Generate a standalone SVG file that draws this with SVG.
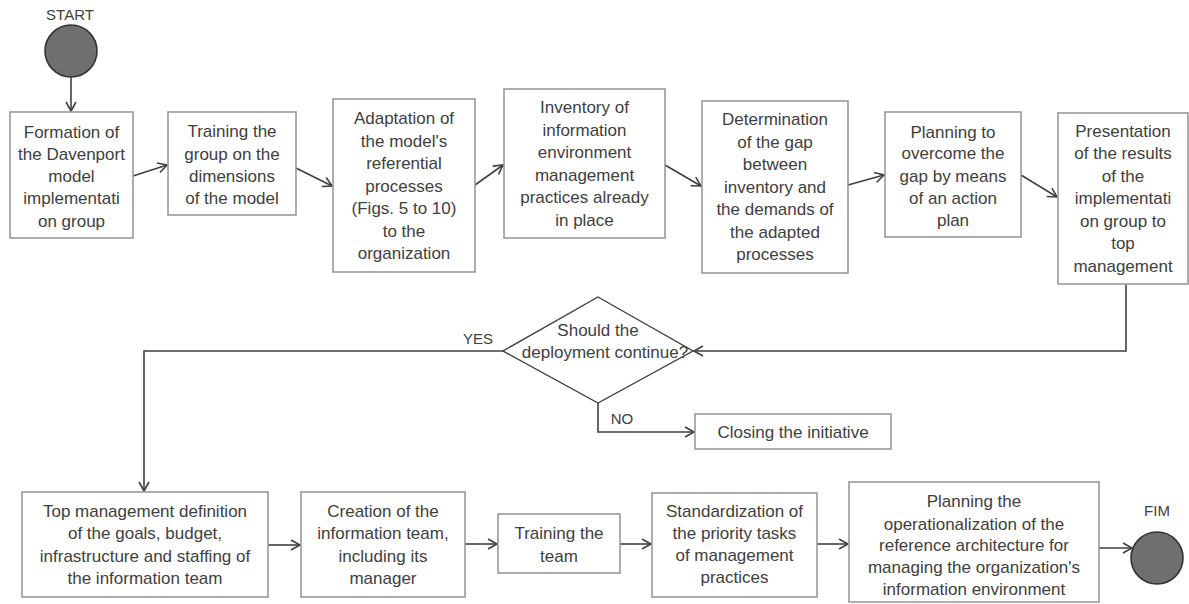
<svg xmlns="http://www.w3.org/2000/svg" width="1189" height="604" viewBox="0 0 1189 604">
<style>
  .box{fill:#fff;stroke:#9a9a9a;stroke-width:1.6}
  .t{font-family:"Liberation Sans",Arial,sans-serif;font-size:17px;fill:#404040;text-anchor:middle}
  .lbl{font-family:"Liberation Sans",Arial,sans-serif;font-size:15px;fill:#404040;text-anchor:middle}
  .c{fill:none;stroke:#404040;stroke-width:1.6}
  .term{fill:#6f6f6f;stroke:#333;stroke-width:1.6}
  .dia{fill:#fff;stroke:#404040;stroke-width:1.4}
</style>
<defs>
  <marker id="ar" markerUnits="userSpaceOnUse" markerWidth="12" markerHeight="12" refX="10" refY="6" orient="auto">
    <path d="M1,1 L10,6 L1,11" fill="none" stroke="#404040" stroke-width="1.6"/>
  </marker>
</defs>
<rect width="1189" height="604" fill="#fff"/>

<g id="connectors">
  <line class="c" x1="71" y1="77" x2="71" y2="111" marker-end="url(#ar)"/>
  <line class="c" x1="133" y1="176" x2="167" y2="165" marker-end="url(#ar)"/>
  <line class="c" x1="296" y1="168" x2="332" y2="186" marker-end="url(#ar)"/>
  <line class="c" x1="475" y1="185" x2="503" y2="165" marker-end="url(#ar)"/>
  <line class="c" x1="665" y1="165" x2="701" y2="186" marker-end="url(#ar)"/>
  <line class="c" x1="848" y1="185" x2="884" y2="175" marker-end="url(#ar)"/>
  <line class="c" x1="1021" y1="175" x2="1057" y2="197" marker-end="url(#ar)"/>
  <polyline class="c" points="1126,284 1126,351 694,351" marker-end="url(#ar)"/>
  <polyline class="c" points="503,351 144,351 144,491" marker-end="url(#ar)"/>
  <polyline class="c" points="598,403 598,432 694,432" marker-end="url(#ar)"/>
  <line class="c" x1="268" y1="545" x2="300" y2="545" marker-end="url(#ar)"/>
  <line class="c" x1="465" y1="544" x2="497" y2="544" marker-end="url(#ar)"/>
  <line class="c" x1="620" y1="544" x2="651" y2="544" marker-end="url(#ar)"/>
  <line class="c" x1="817" y1="544" x2="848" y2="544" marker-end="url(#ar)"/>
  <line class="c" x1="1099" y1="548" x2="1132" y2="548" marker-end="url(#ar)"/>
  <text class="lbl" x="478" y="344">YES</text>
  <text class="lbl" x="622" y="424">NO</text>
</g>

<g id="start">
  <text class="lbl" x="70" y="20">START</text>
  <circle class="term" cx="71" cy="51" r="26"/>
</g>

<g id="n1">
  <rect class="box" x="10" y="112" width="123" height="126"/>
  <text class="t" x="71.5"><tspan x="71.5" y="138">Formation of</tspan><tspan x="71.5" y="160">the Davenport</tspan><tspan x="71.5" y="182">model</tspan><tspan x="71.5" y="204">implementati</tspan><tspan x="71.5" y="227">on group</tspan></text>
</g>

<g id="n2">
  <rect class="box" x="168" y="112" width="128" height="103"/>
  <text class="t"><tspan x="232" y="137">Training the</tspan><tspan x="232" y="160">group on the</tspan><tspan x="232" y="182">dimensions</tspan><tspan x="232" y="204">of the model</tspan></text>
</g>

<g id="n3">
  <rect class="box" x="333" y="99" width="142" height="173"/>
  <text class="t"><tspan x="404" y="124">Adaptation of</tspan><tspan x="404" y="147">the model's</tspan><tspan x="404" y="169">referential</tspan><tspan x="404" y="192">processes</tspan><tspan x="404" y="214">(Figs. 5 to 10)</tspan><tspan x="404" y="237">to the</tspan><tspan x="404" y="259">organization</tspan></text>
</g>

<g id="n4">
  <rect class="box" x="504" y="89" width="161" height="149"/>
  <text class="t"><tspan x="584.5" y="113">Inventory of</tspan><tspan x="584.5" y="136">information</tspan><tspan x="584.5" y="158">environment</tspan><tspan x="584.5" y="181">management</tspan><tspan x="584.5" y="203">practices already</tspan><tspan x="584.5" y="226">in place</tspan></text>
</g>

<g id="n5">
  <rect class="box" x="702" y="101" width="146" height="172"/>
  <text class="t"><tspan x="775" y="125">Determination</tspan><tspan x="775" y="148">of the gap</tspan><tspan x="775" y="170">between</tspan><tspan x="775" y="193">inventory and</tspan><tspan x="775" y="215">the demands of</tspan><tspan x="775" y="238">the adapted</tspan><tspan x="775" y="260">processes</tspan></text>
</g>

<g id="n6">
  <rect class="box" x="885" y="112" width="136" height="125"/>
  <text class="t"><tspan x="953" y="138">Planning to</tspan><tspan x="953" y="159">overcome the</tspan><tspan x="953" y="182">gap by means</tspan><tspan x="953" y="204">of an action</tspan><tspan x="953" y="226">plan</tspan></text>
</g>

<g id="n7">
  <rect class="box" x="1058" y="113" width="130" height="171"/>
  <text class="t"><tspan x="1123" y="137">Presentation</tspan><tspan x="1123" y="159">of the results</tspan><tspan x="1123" y="182">of the</tspan><tspan x="1123" y="204">implementati</tspan><tspan x="1123" y="227">on group to</tspan><tspan x="1123" y="249">top</tspan><tspan x="1123" y="272">management</tspan></text>
</g>

<g id="decision">
  <polygon class="dia" points="598,297 693,351 598,403 503,351"/>
  <text class="t"><tspan x="598" y="336">Should the</tspan><tspan x="605" y="358">deployment continue?</tspan></text>
</g>

<g id="closing">
  <rect class="box" x="695" y="414" width="196" height="35"/>
  <text class="t" x="793" y="438">Closing the initiative</text>
</g>

<g id="b1">
  <rect class="box" x="22" y="492" width="246" height="105"/>
  <text class="t"><tspan x="145" y="517">Top management definition</tspan><tspan x="145" y="539">of the goals, budget,</tspan><tspan x="145" y="562">infrastructure and staffing of</tspan><tspan x="145" y="584">the information team</tspan></text>
</g>

<g id="b2">
  <rect class="box" x="301" y="492" width="164" height="105"/>
  <text class="t"><tspan x="383" y="517">Creation of the</tspan><tspan x="383" y="539">information team,</tspan><tspan x="383" y="562">including its</tspan><tspan x="383" y="584">manager</tspan></text>
</g>

<g id="b3">
  <rect class="box" x="498" y="514" width="122" height="59"/>
  <text class="t"><tspan x="559" y="539">Training the</tspan><tspan x="559" y="562">team</tspan></text>
</g>

<g id="b4">
  <rect class="box" x="652" y="493" width="165" height="104"/>
  <text class="t"><tspan x="734.5" y="517">Standardization of</tspan><tspan x="734.5" y="539">the priority tasks</tspan><tspan x="734.5" y="561">of management</tspan><tspan x="734.5" y="583">practices</tspan></text>
</g>

<g id="b5">
  <rect class="box" x="849" y="482" width="250" height="120"/>
  <text class="t"><tspan x="974" y="507">Planning the</tspan><tspan x="974" y="530">operationalization of the</tspan><tspan x="974" y="551">reference architecture for</tspan><tspan x="974" y="573">managing the organization's</tspan><tspan x="974" y="595">information environment</tspan></text>
</g>

<g id="fim">
  <text class="lbl" x="1157" y="516">FIM</text>
  <circle class="term" cx="1157" cy="558" r="26"/>
</g>
</svg>
